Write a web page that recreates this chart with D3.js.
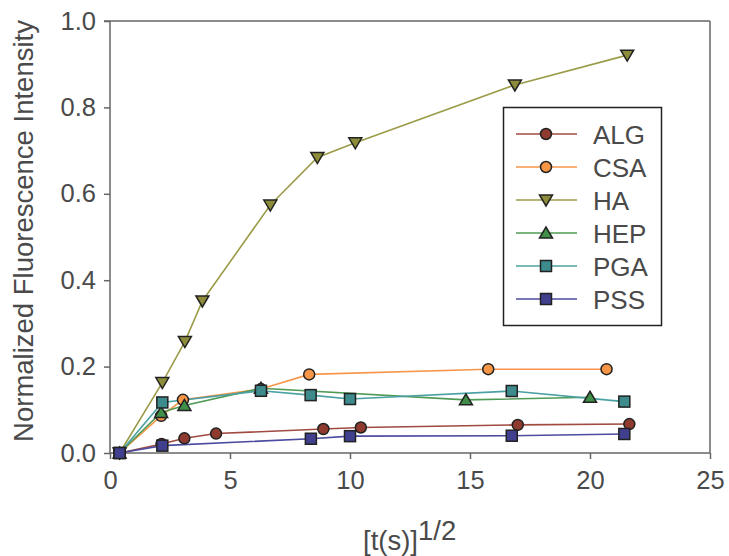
<!DOCTYPE html>
<html><head><meta charset="utf-8">
<script src="https://cdn.jsdelivr.net/npm/d3@7"></script>
<style>body{margin:0;background:#fff;}svg{display:block;font-family:"Liberation Sans",Arial,sans-serif;}</style>
</head><body>
<svg id="c" width="729" height="556"></svg>
<script>
const seriesNames = ["ALG","CSA","HA","HEP","PGA","PSS"];
const ALG = [[0.4,0],[2.15,0.021],[3.1,0.034],[4.42,0.045],[8.89,0.0555],[10.45,0.059],[16.99,0.065],[21.64,0.067]];
const CSA = [[0.4,0],[2.13,0.086],[3.04,0.123],[6.29,0.148],[8.3,0.182],[15.76,0.194],[20.69,0.194]];
const HA  = [[0.4,0],[2.18,0.163],[3.12,0.258],[3.85,0.352],[6.68,0.574],[8.64,0.684],[10.22,0.718],[16.87,0.852],[21.55,0.921]];
const HEP = [[0.4,0],[2.13,0.094],[3.1,0.110],[6.29,0.150],[14.83,0.123],[20.0,0.129]];
const PGA = [[0.4,0],[2.18,0.117],[6.29,0.144],[8.36,0.134],[10.0,0.125],[16.74,0.1435],[21.43,0.119]];
const PSS = [[0.4,0],[2.18,0.017],[8.37,0.033],[10.0,0.039],[16.74,0.040],[21.43,0.044]];
const xTicks = [0,5,10,15,20,25];
const yTicks = [0,0.2,0.4,0.6,0.8,1.0];

const seriesData = {ALG,CSA,HA,HEP,PGA,PSS};
const styles = {
  ALG:{line:"#a04a40",fill:"#8e3a2e",shape:"circle"},
  CSA:{line:"#f7964a",fill:"#f79646",shape:"circle"},
  HA:{line:"#9b9b48",fill:"#8c8c3a",shape:"tdown"},
  HEP:{line:"#4f9a55",fill:"#3f8f48",shape:"tup"},
  PGA:{line:"#4aa0a2",fill:"#3d8b8c",shape:"square"},
  PSS:{line:"#4b4ba0",fill:"#40408f",shape:"square"}
};
const L=110,R=710,T=21,B=453;
const x=d3.scaleLinear().domain([0,25]).range([L,R]);
const y=d3.scaleLinear().domain([0,1]).range([B,T]);
const svg=d3.select("#c");
const axisCol="#666", textCol="#4a4a4a";

function marker(g,shape,fill){
  let m;
  if(shape==="circle") m=g.append("circle").attr("r",5.5);
  else if(shape==="square") m=g.append("rect").attr("x",-5.5).attr("y",-5.5).attr("width",11).attr("height",11);
  else if(shape==="tdown") m=g.append("path").attr("d","M-6.5,-5L6.5,-5L0,6Z");
  else m=g.append("path").attr("d","M-6.5,5L6.5,5L0,-6Z");
  m.attr("fill",fill).attr("stroke","#222").attr("stroke-width",1.5);
}

// frame
const ax=svg.append("g");
ax.append("line").attr("x1",L-6).attr("x2",R).attr("y1",T).attr("y2",T).attr("stroke",axisCol).attr("stroke-width",1.5);
ax.append("line").attr("x1",R).attr("x2",R).attr("y1",T).attr("y2",B).attr("stroke",axisCol).attr("stroke-width",1.5);

const gx=svg.append("g").attr("transform",`translate(0,${B})`).call(d3.axisBottom(x).tickValues(xTicks).tickSize(6).tickPadding(12).tickFormat(d3.format("d")));
const gy=svg.append("g").attr("transform",`translate(${L},0)`).call(d3.axisLeft(y).tickValues(yTicks).tickSize(6).tickPadding(8).tickFormat(d3.format(".1f")));
[gx,gy].forEach(g=>{
  g.select(".domain").attr("stroke",axisCol).attr("stroke-width",1.5);
  g.selectAll(".tick line").attr("stroke",axisCol).attr("stroke-width",1.5);
  g.selectAll(".tick text").attr("fill",textCol).style("font-size","25.5px").style("font-family","Liberation Sans, Arial, sans-serif");
});
gx.select(".domain").attr("d",`M${L},0H${R}`);
gy.select(".domain").attr("d",`M0,${B}V${T}`);

// series
const line=d3.line().x(d=>x(d[0])).y(d=>y(d[1]));
const order=["HA","CSA","HEP","PGA","ALG","PSS"];
order.forEach(n=>{
  svg.append("path").datum(seriesData[n]).attr("d",line).attr("fill","none").attr("stroke",styles[n].line).attr("stroke-width",1.6);
});
order.forEach(n=>{
  seriesData[n].forEach(d=>{
    const g=svg.append("g").attr("transform",`translate(${x(d[0])},${y(d[1])})`);
    marker(g,styles[n].shape,styles[n].fill);
  });
});

// legend
const lg=svg.append("g");
lg.append("rect").attr("x",503.5).attr("y",107.5).attr("width",158).attr("height",218).attr("fill","#fff").attr("stroke","#222").attr("stroke-width",1.5);
seriesNames.forEach((n,i)=>{
  const yy=134+i*33;
  lg.append("line").attr("x1",516).attr("x2",577).attr("y1",yy).attr("y2",yy).attr("stroke",styles[n].line).attr("stroke-width",1.6);
  const g=lg.append("g").attr("transform",`translate(546,${yy})`);
  marker(g,styles[n].shape,styles[n].fill);
  lg.append("text").attr("x",593).attr("y",yy+9.5).attr("fill",textCol).style("font-size","26px").text(n);
});

// axis titles
svg.append("text").attr("transform","translate(33,231) rotate(-90)").attr("text-anchor","middle").attr("fill",textCol).style("font-size","27.5px").text("Normalized Fluorescence Intensity");
const xt=svg.append("text").attr("x",363).attr("y",550).attr("fill",textCol).style("font-size","27.5px");
xt.append("tspan").text("[t(s)]");
xt.append("tspan").attr("dy",-10).text("1/2");
</script>
</body></html>
